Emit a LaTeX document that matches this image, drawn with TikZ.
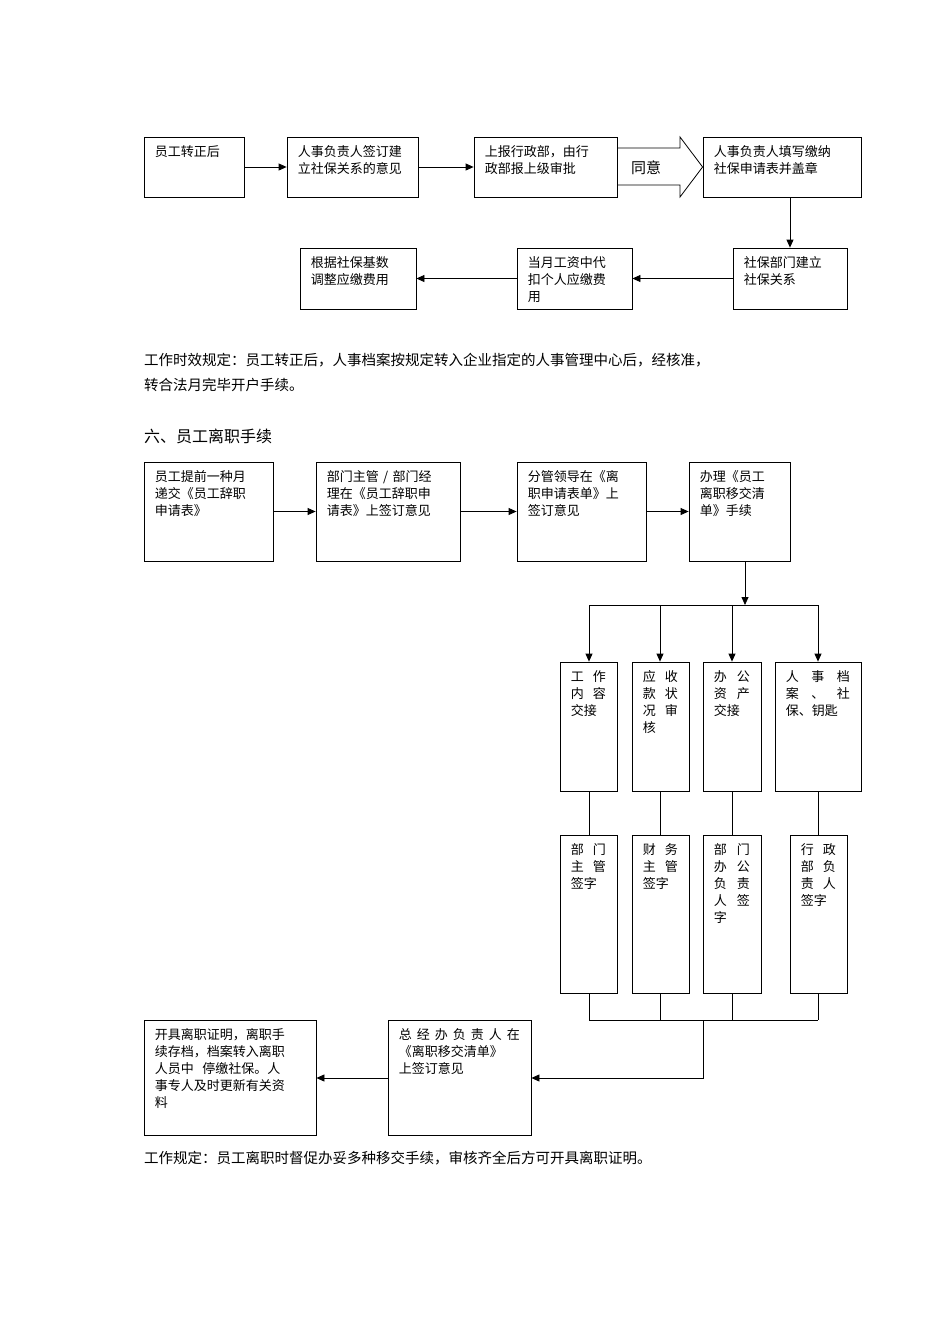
\documentclass[tikz,border=0pt]{standalone}
\usepackage{fontspec}
\setmainfont{Noto Sans CJK SC}
\usetikzlibrary{arrows.meta,positioning,fit}
\newcommand\gp{\hskip 0pt plus 1fill\relax}
% box from corner to corner, with its text at the top left
\newcommand\bx[6]{%
  \node[box,fit={(#2,#3)(#4,#5)}] (#1) {};
  \node[txt,anchor=north west,text width=#4pt-#2pt-22pt] at ([shift={(11pt,-9pt)}]#1.north west) {#6};}
\begin{document}
\begin{tikzpicture}[x=1pt,y=-1pt,
        box/.style={draw=black,inner sep=0pt,line width=0.8pt},
        txt/.style={inner sep=0pt,align=left,font=\fontsize{13}{17}\selectfont},
        myarrow/.style={-{Triangle[length=8pt,width=7pt]},line width=0.8pt},
        myline/.style={line width=0.8pt}
        ]
        \useasboundingbox (0,0) rectangle (950,1344);
        % first flow
        \bx{a1}{144}{137}{244}{197}{员工转正后}
        \bx{a2}{287}{137}{418}{197}{人事负责人签订建\\立社保关系的意见}
        \bx{a3}{474}{137}{617}{197}{上报行政部，由行\\政部报上级审批}
        \bx{a4}{703}{137}{861}{197}{人事负责人填写缴纳\\社保申请表并盖章}
        \bx{a5}{733}{248}{847}{309}{社保部门建立\\社保关系}
        \bx{a6}{517}{248}{632}{309}{当月工资中代\\扣个人应缴费\\用}
        \bx{a7}{300}{248}{416}{309}{根据社保基数\\调整应缴费用}
        \draw[myline] (a3.east |- 0,148) -- (680,148) -- (680,137) -- (a4.west) -- (680,197) -- (680,185) -- (a3.east |- 0,185);
        \node[txt,font=\fontsize{15}{15}\selectfont] (ok) at (646,168) {同意};
        \draw[myarrow] (a1) -- (a2);
        \draw[myarrow] (a2) -- (a3);
        \draw[myarrow] (a4.south -| 790,0) -- (a5.north -| 790,0);
        \draw[myarrow] (a5) -- (a6);
        \draw[myarrow] (a6) -- (a7);
        \node[txt,anchor=west,font=\fontsize{14.5}{25}\selectfont] (rule1) at (144,372)
            {工作时效规定：员工转正后，人事档案按规定转入企业指定的人事管理中心后，经核准，\\转合法月完毕开户手续。};
        \node[txt,anchor=west,font=\fontsize{16}{16}\selectfont] (title) at (144,436) {六、员工离职手续};
        % second flow
        \bx{b1}{144}{462}{273}{561}{员工提前一种月\\递交《员工辞职\\申请表》}
        \bx{b2}{316}{462}{460}{561}{部门主管 / 部门经\\理在《员工辞职申\\请表》上签订意见}
        \bx{b3}{517}{462}{646}{561}{分管领导在《离\\职申请表单》上\\签订意见}
        \bx{b4}{689}{462}{790}{561}{办理《员工\\离职移交清\\单》手续}
        \draw[myarrow] (b1) -- (b2);
        \draw[myarrow] (b2) -- (b3);
        \draw[myarrow] (b3) -- (b4);
        \coordinate (sp) at (745,605);
        \draw[myarrow] (b4.south -| sp) -- (sp);
        \draw[myline] (589,605) -- (818,605);
        \bx{c1}{560}{662}{617}{791}{工\gp 作\\内\gp 容\\交接}
        \bx{c2}{632}{662}{689}{791}{应\gp 收\\款\gp 状\\况\gp 审\\核}
        \bx{c3}{703}{662}{761}{791}{办\gp 公\\资\gp 产\\交接}
        \bx{c4}{775}{662}{861}{791}{人\gp 事\gp 档\\案\gp 、\gp 社\\保、钥匙}
        \bx{d1}{560}{835}{617}{993}{部\gp 门\\主\gp 管\\签字}
        \bx{d2}{632}{835}{689}{993}{财\gp 务\\主\gp 管\\签字}
        \bx{d3}{703}{835}{761}{993}{部\gp 门\\办\gp 公\\负\gp 责\\人\gp 签\\字}
        \bx{d4}{790}{835}{847}{993}{行\gp 政\\部\gp 负\\责\gp 人\\签字}
        \foreach \c/\d/\x in {c1/d1/589,c2/d2/660,c3/d3/732,c4/d4/818}{
            \draw[myarrow] (\x,605) -- (\c.north -| \x,0);
            \draw[myline] (\c.south -| \x,0) -- (\d.north -| \x,0);
            \draw[myline] (\d.south -| \x,0) -- (\x,1020);
        }
        \draw[myline] (589,1020) -- (818,1020);
        \bx{e1}{388}{1020}{531}{1135}{总\gp 经\gp 办\gp 负\gp 责\gp 人\gp 在\\《离职移交清单》\\上签订意见}
        \bx{e2}{144}{1020}{316}{1135}{开具离职证明，离职手\\续存档，档案转入离职\\人员中\ \ 停缴社保。人\\事专人及时更新有关资\\料}
        \draw[myarrow] (703,1020) -- (703,1078) -- (e1.east |- 0,1078);
        \draw[myarrow] (e1.west |- 0,1078) -- (e2.east |- 0,1078);
        \node[txt,anchor=west,font=\fontsize{14.5}{16}\selectfont] (rule2) at (144,1158)
            {工作规定：员工离职时督促办妥多种移交手续，审核齐全后方可开具离职证明。};
\end{tikzpicture}
\end{document}
